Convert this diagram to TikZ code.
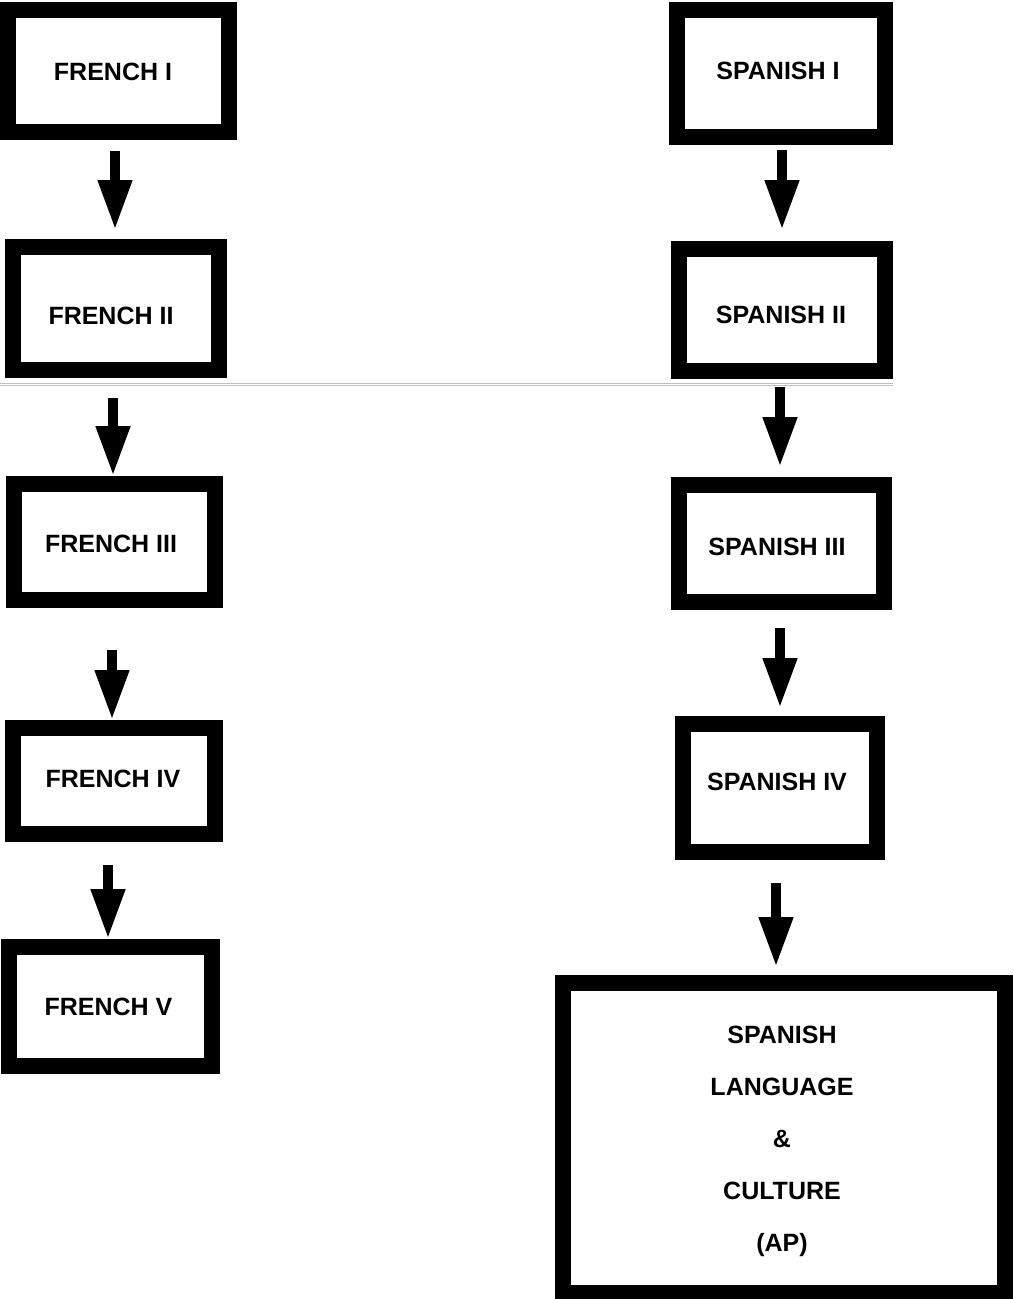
\documentclass[tikz,border=0pt]{standalone}
\usepackage{fontspec}
\setmainfont{Liberation Sans}
\usetikzlibrary{arrows.meta}

\begin{document}
\begin{tikzpicture}[x=1pt,y=-1pt,
  course/.style={draw=black, line width=16pt, fill=white, inner sep=0pt,
                 outer sep=8pt, minimum width=#1},
  title/.style={font=\fontsize{25}{30}\selectfont\bfseries, inner sep=0pt, anchor=center},
  flow/.style={line width=10.5pt, draw=black,
               -{Triangle[width=32pt,length=50pt]}},
  rule/.style={draw=black!25, line width=1pt}
]
% page
\fill[white] (0,0) rectangle (1013,1299);
\useasboundingbox (0,0) rectangle (1013,1299);

% separator line
\draw[rule] (0,383.5) -- (893,383.5);
\draw[rule] (0,385.5) -- (893,385.5);

% French track
\node[course=221pt, minimum height=122pt] (f1) at (118.5,71) {};
\node[course=206pt, minimum height=123pt] (f2) at (116,308.5) {};
\node[course=201pt, minimum height=116pt] (f3) at (114.5,542) {};
\node[course=202pt, minimum height=106pt] (f4) at (114,781) {};
\node[course=203pt, minimum height=119pt] (f5) at (110.5,1006.5) {};

\node[title] (tf1) at (113,72) {FRENCH I};
\node[title] (tf2) at (111,316) {FRENCH II};
\node[title] (tf3) at (111,544) {FRENCH III};
\node[title] (tf4) at (113,779) {FRENCH IV};
\node[title] (tf5) at (108.5,1007) {FRENCH V};

% Spanish track
\node[course=208pt, minimum height=127pt] (s1) at (781,73.5) {};
\node[course=206pt, minimum height=122pt] (s2) at (782,310) {};
\node[course=205pt, minimum height=117pt] (s3) at (781.5,543.5) {};
\node[course=194pt, minimum height=128pt] (s4) at (780,788) {};
\node[course=442pt, minimum height=310pt] (ap) at (784,1138) {};

\node[title] (ts1) at (778,71) {SPANISH I};
\node[title] (ts2) at (781,315) {SPANISH II};
\node[title] (ts3) at (777,547) {SPANISH III};
\node[title] (ts4) at (777,782) {SPANISH IV};
\node[title, align=center, font=\fontsize{25}{52}\selectfont\bfseries] (tap) at (782,1141)
  {SPANISH\\LANGUAGE\\\&\\CULTURE\\(AP)};

% French arrows
\draw[flow, shorten <=11pt, shorten >=9pt]
  ([xshift=-3.5pt]f1.south) -- ([xshift=-3.5pt]f1.south |- f2.north);
\draw[flow, shorten <=20pt]
  ([xshift=-3pt]f2.south) -- ([xshift=-3pt]f2.south |- f3.north);
\draw[flow, shorten <=42pt]
  ([xshift=-2.5pt]f3.south) -- ([xshift=-2.5pt]f3.south |- f4.north);
\draw[flow, shorten <=23pt]
  ([xshift=-6pt]f4.south) -- ([xshift=-6pt]f4.south |- f5.north);

% Spanish arrows
\draw[flow, shorten <=5pt, shorten >=11pt]
  ([xshift=1pt]s1.south) -- ([xshift=1pt]s1.south |- s2.north);
\draw[flow, shorten <=8pt, shorten >=10pt]
  ([xshift=-2pt]s2.south) -- ([xshift=-2pt]s2.south |- s3.north);
\draw[flow, shorten <=18pt, shorten >=8pt]
  ([xshift=-1.5pt]s3.south) -- ([xshift=-1.5pt]s3.south |- s4.north);
\draw[flow, shorten <=23pt, shorten >=8pt]
  ([xshift=-4pt]s4.south) -- ([xshift=-4pt]s4.south |- ap.north);
\end{tikzpicture}
\end{document}
